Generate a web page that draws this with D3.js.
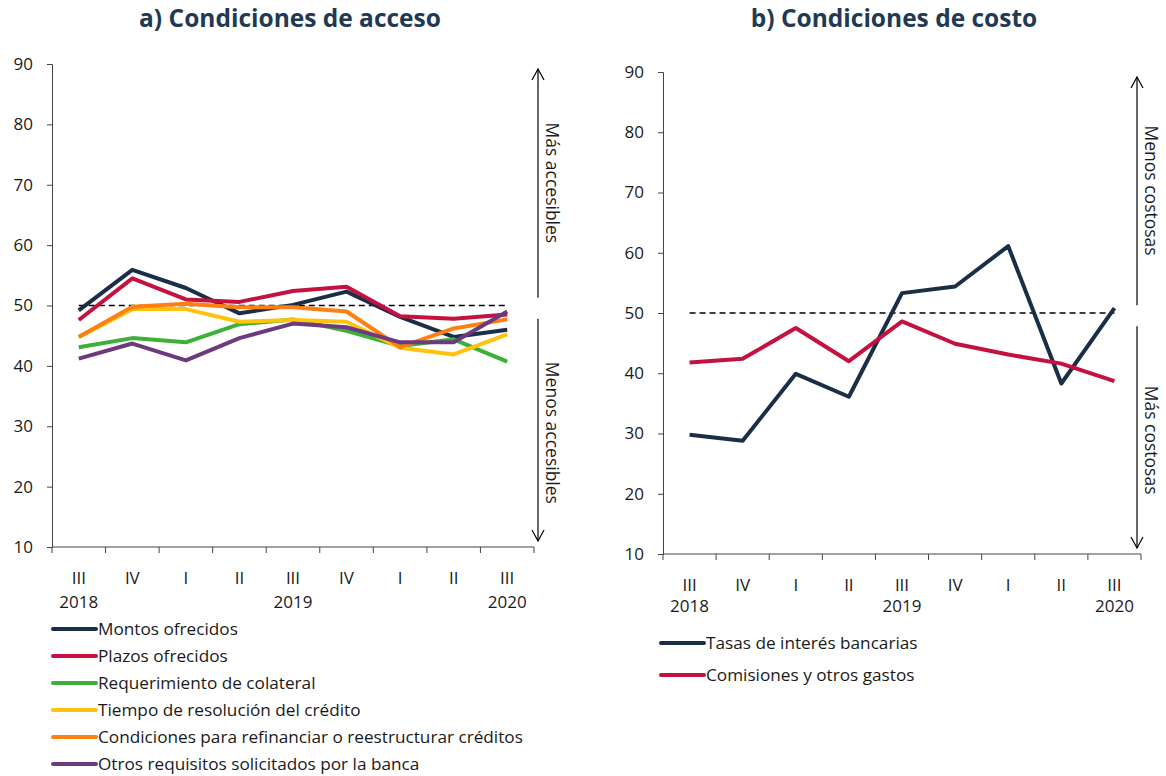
<!DOCTYPE html>
<html>
<head>
<meta charset="utf-8">
<script src="https://cdn.jsdelivr.net/npm/d3@7"></script>
<style>
	body { margin: 0; background: #fff; }
	text { font-family: "Open Sans", sans-serif; fill: #1a1a1a; }
	.title { font-weight: bold; font-size: 24.5px; fill: #1f3a52; }
	.tick text { font-size: 17px; }
	.domain, .tick line { stroke: #444; }
</style>
</head>
<body>
<script>

// - data -

var quarters = ['III', 'IV', 'I', 'II', 'III', 'IV', 'I', 'II', 'III'];
var years = ['2018', '', '', '', '2019', '', '', '', '2020'];
var yTicks = [10, 20, 30, 40, 50, 60, 70, 80, 90];

var montos = [49.2, 55.9, 52.9, 48.7, 50.1, 52.3, 48.1, 44.8, 46.0];
var plazos = [47.6, 54.5, 51.0, 50.6, 52.4, 53.1, 48.2, 47.8, 48.5];
var colateral = [43.1, 44.6, 43.9, 46.9, 47.7, 45.8, 43.3, 44.4, 40.7];
var tiempo = [44.8, 49.4, 49.4, 47.3, 47.6, 47.3, 43.0, 41.9, 45.2];
var refinanciar = [44.8, 49.8, 50.3, 49.7, 49.7, 49.0, 43.1, 46.2, 47.7];
var otros = [41.2, 43.7, 40.9, 44.6, 47.0, 46.4, 43.9, 43.9, 49.0];

var tasas = [29.8, 28.8, 39.9, 36.1, 53.3, 54.4, 61.1, 38.3, 50.8];
var comisiones = [41.8, 42.4, 47.5, 42.0, 48.6, 44.9, 43.1, 41.6, 38.7];

var seriesA = [
	{ name: 'Montos ofrecidos', color: '#1b2e47', values: montos },
	{ name: 'Plazos ofrecidos', color: '#c3123f', values: plazos },
	{ name: 'Requerimiento de colateral', color: '#3db03a', values: colateral },
	{ name: 'Tiempo de resolución del crédito', color: '#ffc20e', values: tiempo },
	{ name: 'Condiciones para refinanciar o reestructurar créditos', color: '#ff7f11', values: refinanciar },
	{ name: 'Otros requisitos solicitados por la banca', color: '#6d3b7d', values: otros }
];

var seriesB = [
	{ name: 'Tasas de interés bancarias', color: '#1b2e47', values: tasas },
	{ name: 'Comisiones y otros gastos', color: '#c3123f', values: comisiones }
];

// - global -

var width = 1166;
var height = 776;

var svg = d3.select('body').append('svg')
	.attr('width', width)
	.attr('height', height);

// - chart -

function drawPanel(opt) {
	var x = d3.scaleBand()
		.domain(d3.range(quarters.length))
		.range([opt.left, opt.right]);

	var y = d3.scaleLinear()
		.domain([10, 90])
		.range([opt.bottom, opt.top]);

	var g = svg.append('g');

	g.append('text')
		.attr('class', 'title')
		.attr('x', opt.titleX)
		.attr('y', 27)
		.attr('text-anchor', 'middle')
		.text(opt.title);

	// y axis
	var yAxis = g.append('g')
		.attr('transform', 'translate(' + opt.left + ',0)')
		.call(d3.axisLeft(y).tickValues(yTicks).tickSize(5).tickPadding(14));
	yAxis.selectAll('.tick text').attr('fill', '#1a1a1a');

	// x axis (ticks at band edges)
	var xAxis = g.append('g')
		.attr('transform', 'translate(0,' + opt.bottom + ')');
	xAxis.append('line')
		.attr('x1', opt.left).attr('x2', opt.right)
		.attr('stroke', '#444');
	xAxis.selectAll('.xtick')
		.data(d3.range(quarters.length + 1)).enter()
		.append('line')
			.attr('x1', function(d) { return opt.left + d * x.bandwidth(); })
			.attr('x2', function(d) { return opt.left + d * x.bandwidth(); })
			.attr('y1', 0).attr('y2', 6)
			.attr('stroke', '#444');
	xAxis.selectAll('.qlabel')
		.data(quarters).enter()
		.append('text')
			.attr('x', function(d, i) { return x(i) + x.bandwidth() / 2; })
			.attr('y', opt.qY - opt.bottom)
			.attr('text-anchor', 'middle')
			.attr('font-size', 17)
			.text(function(d) { return d; });
	xAxis.selectAll('.ylabel')
		.data(years).enter()
		.append('text')
			.attr('x', function(d, i) { return x(i) + x.bandwidth() / 2; })
			.attr('y', opt.qY - opt.bottom + opt.yearGap)
			.attr('text-anchor', 'middle')
			.attr('font-size', 17)
			.text(function(d) { return d; });

	var cx = function(d, i) { return x(i) + x.bandwidth() / 2; };

	// reference line at 50
	g.append('line')
		.attr('x1', cx(null, 0)).attr('x2', cx(null, quarters.length - 1))
		.attr('y1', y(50)).attr('y2', y(50))
		.attr('stroke', '#000')
		.attr('stroke-width', 1.5)
		.attr('stroke-dasharray', '6,4');

	var line = d3.line()
		.x(cx)
		.y(function(d) { return y(d); });

	g.selectAll('.series')
		.data(opt.series).enter()
		.append('path')
			.attr('d', function(d) { return line(d.values); })
			.attr('fill', 'none')
			.attr('stroke', function(d) { return d.color; })
			.attr('stroke-width', 4)
			.attr('stroke-linejoin', 'round');

	// arrows
	var ax = opt.arrowX;
	var gap = [y(51.3), y(47.8)];
	var arrow = g.append('g').attr('stroke', '#000').attr('stroke-width', 1.2).attr('fill', 'none');
	arrow.append('line').attr('x1', ax).attr('x2', ax).attr('y1', opt.top + 5).attr('y2', gap[0]);
	arrow.append('line').attr('x1', ax).attr('x2', ax).attr('y1', gap[1]).attr('y2', opt.bottom - 6);
	arrow.append('path').attr('d', 'M' + (ax - 6) + ',' + (opt.top + 16) + 'L' + ax + ',' + (opt.top + 5) + 'L' + (ax + 6) + ',' + (opt.top + 16));
	arrow.append('path').attr('d', 'M' + (ax - 6) + ',' + (opt.bottom - 17) + 'L' + ax + ',' + (opt.bottom - 6) + 'L' + (ax + 6) + ',' + (opt.bottom - 17));

	[[opt.upText, (opt.top + gap[0]) / 2 + 2], [opt.downText, (gap[1] + opt.bottom) / 2]].forEach(function(t) {
		g.append('text')
			.attr('transform', 'translate(' + (ax + 8) + ',' + t[1] + ') rotate(90)')
			.attr('text-anchor', 'middle')
			.attr('font-size', 17.5)
			.text(t[0]);
	});

	// legend
	var lg = g.selectAll('.legend')
		.data(opt.series).enter()
		.append('g')
			.attr('transform', function(d, i) { return 'translate(' + opt.legendX + ',' + (opt.legendY + i * opt.legendStep) + ')'; });
	lg.append('line')
		.attr('x1', 0).attr('x2', 43)
		.attr('stroke', function(d) { return d.color; })
		.attr('stroke-width', 4)
		.attr('stroke-linecap', 'round');
	lg.append('text')
		.attr('x', 45)
		.attr('y', 6)
		.attr('font-size', 17.2)
		.text(function(d) { return d.name; });
}

// - main -

drawPanel({
	title: 'a) Condiciones de acceso', titleX: 290,
	left: 52, right: 534, top: 64, bottom: 547,
	qY: 584, yearGap: 24, arrowX: 538,
	upText: 'Más accesibles', downText: 'Menos accesibles',
	series: seriesA, legendX: 53, legendY: 629, legendStep: 27
});

drawPanel({
	title: 'b) Condiciones de costo', titleX: 894,
	left: 663, right: 1141, top: 72, bottom: 554,
	qY: 591, yearGap: 21, arrowX: 1137,
	upText: 'Menos costosas', downText: 'Más costosas',
	series: seriesB, legendX: 661, legendY: 643, legendStep: 32
});

</script>
</body>
</html>
